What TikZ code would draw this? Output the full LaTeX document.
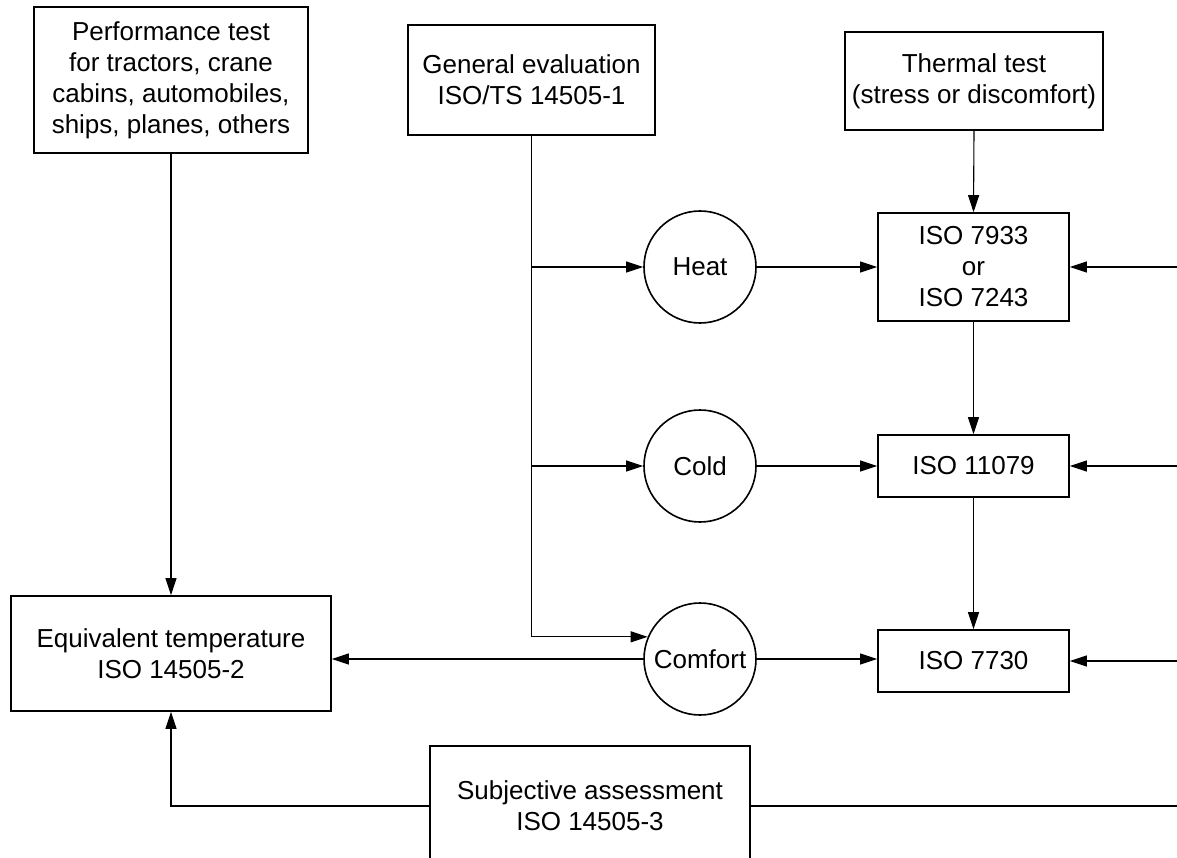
\documentclass[tikz,border=0pt]{standalone}
\usepackage{fontspec}
\setmainfont{Liberation Sans}
\usetikzlibrary{arrows.meta}
\begin{document}
\begin{tikzpicture}[x=1pt,y=-1pt,
  every node/.style={font=\fontsize{26}{31}\selectfont, align=center, inner sep=0pt},
  box/.style={draw, line width=1.6pt, rectangle},
  circ/.style={draw, line width=1.6pt, circle, minimum size=112pt},
  arr/.style={line width=1.1pt, -{Triangle[length=17pt,width=11pt]}},
  ln/.style={line width=1.1pt}]
\useasboundingbox (0,0) rectangle (1177,858);
\clip (0,0) rectangle (1177,858);
\node[box, minimum width=274pt, minimum height=146pt] (perf) at (171,80) {Performance test\\for tractors, crane\\cabins, automobiles,\\ships, planes, others};
\node[box, minimum width=247pt, minimum height=110pt] (gen) at (531.5,80) {General evaluation\\ISO/TS 14505-1};
\node[box, minimum width=258pt, minimum height=98pt] (therm) at (974,81) {Thermal test\\(stress or discomfort)};
\node[box, minimum width=191pt, minimum height=108pt] (i7933) at (973.5,267) {ISO 7933\\or\\ISO 7243};
\node[box, minimum width=191pt, minimum height=62pt] (i11079) at (973.5,466) {ISO 11079};
\node[box, minimum width=191pt, minimum height=62pt] (i7730) at (973.5,661) {ISO 7730};
\node[box, minimum width=320pt, minimum height=115pt] (equiv) at (171,653.5) {Equivalent temperature\\ISO 14505-2};
\node[box, minimum width=320pt, minimum height=120pt] (subj) at (590,806) {Subjective assessment\\ISO 14505-3};
\node[circ] (heat) at (700,267) {Heat};
\node[circ] (cold) at (700,466) {Cold};
\node[circ] (comf) at (700,659) {Comfort};
% trunk from general evaluation
\coordinate (jh) at (gen.south |- heat.west);
\coordinate (jc) at (gen.south |- cold.west);
\draw[arr] (gen.south) |- (comf.157);
\draw[arr] (jh) -- (heat.west);
\draw[arr] (jc) -- (cold.west);
% circles to boxes
\draw[arr] (heat.east) -- (heat.east -| i7933.west);
\draw[arr] (cold.east) -- (cold.east -| i11079.west);
\draw[arr] (comf.east) -- (comf.east -| i7730.west);
\draw[arr] (comf.west) -- (comf.west -| equiv.east);
% vertical chain
\draw[arr] (therm.south) -- (i7933.north);
\draw[arr] (i7933.south) -- (i11079.north);
\draw[arr] (i11079.south) -- (i7730.north);
\draw[arr] (perf.south) -- (equiv.north);
% right-edge inputs
\coordinate (r1) at (1177,267);
\coordinate (r2) at (1177,466);
\coordinate (r3) at (1177,661);
\coordinate (r4) at (1177,806);
\draw[arr] (r1) -- (i7933.east);
\draw[arr] (r2) -- (i11079.east);
\draw[arr] (r3) -- (i7730.east);
\draw[ln] (subj.east) -- (r4);
\draw[arr] (subj.west) -| (equiv.south);
\end{tikzpicture}
\end{document}
